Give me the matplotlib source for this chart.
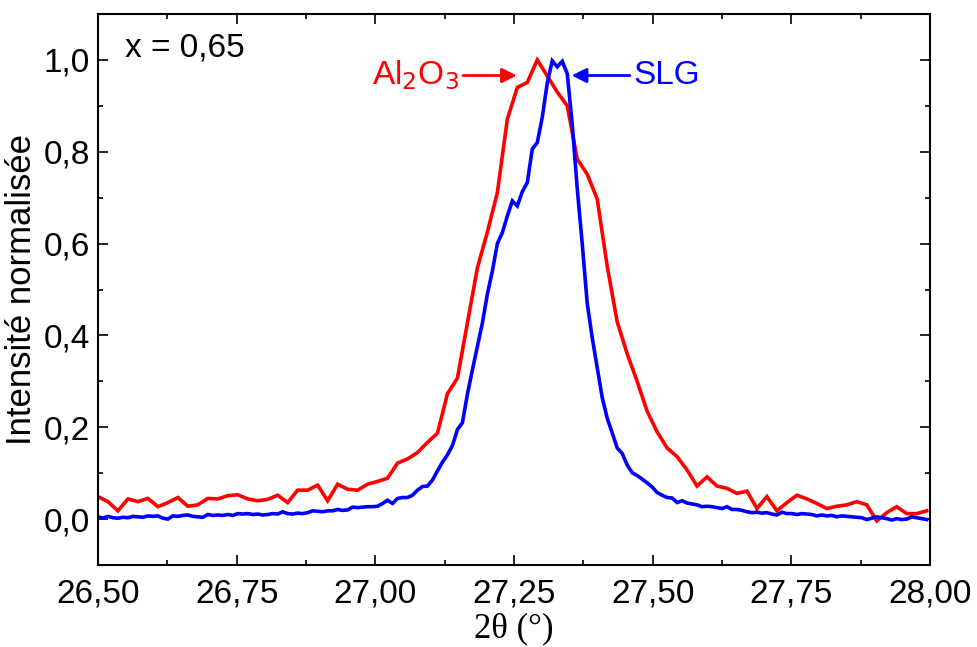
import numpy as np
import matplotlib
matplotlib.use("Agg")
import matplotlib.pyplot as plt
from matplotlib.ticker import FixedLocator, MultipleLocator, FuncFormatter

plt.rcParams['font.family'] = ['Liberation Sans', 'DejaVu Sans']
plt.rcParams['mathtext.fontset'] = 'custom'
plt.rcParams['mathtext.rm'] = 'Liberation Sans'
plt.rcParams['mathtext.it'] = 'Liberation Sans:italic'

# ---- data ----
red_start, red_step = 26.5, 0.018
red_y = [0.049, 0.038, 0.018, 0.044, 0.038, 0.045, 0.027, 0.036, 0.047, 0.028,
         0.031, 0.045, 0.044, 0.051, 0.053, 0.044, 0.040, 0.043, 0.052, 0.036,
         0.063, 0.063, 0.074, 0.040, 0.076, 0.065, 0.063, 0.076, 0.082, 0.089,
         0.122, 0.131, 0.145, 0.167, 0.187, 0.273, 0.307, 0.427, 0.547, 0.625,
         0.711, 0.871, 0.940, 0.951, 1.000, 0.965, 0.930, 0.900, 0.784, 0.751,
         0.697, 0.551, 0.430, 0.360, 0.300, 0.235, 0.190, 0.155, 0.136, 0.107,
         0.072, 0.092, 0.072, 0.067, 0.056, 0.061, 0.023, 0.049, 0.018, 0.036,
         0.052, 0.044, 0.034, 0.023, 0.028, 0.031, 0.038, 0.031, -0.004, 0.014,
         0.027, 0.012, 0.012, 0.018]

blue_start, blue_step = 26.5, 0.009
blue_y = [0.005, 0.002, 0.006, 0.003, 0.002, 0.004, 0.003, 0.006, 0.005, 0.004,
          0.007, 0.006, 0.007, 0.002, 0.000, 0.007, 0.006, 0.008, 0.009, 0.006,
          0.005, 0.004, 0.010, 0.008, 0.009, 0.008, 0.010, 0.008, 0.012, 0.011,
          0.012, 0.010, 0.011, 0.009, 0.010, 0.012, 0.011, 0.016, 0.012, 0.011,
          0.013, 0.012, 0.014, 0.018, 0.017, 0.016, 0.018, 0.018, 0.021, 0.019,
          0.020, 0.026, 0.025, 0.026, 0.027, 0.027, 0.028, 0.034, 0.041, 0.034,
          0.045, 0.047, 0.047, 0.052, 0.063, 0.071, 0.072, 0.085, 0.105, 0.124,
          0.140, 0.160, 0.195, 0.210, 0.272, 0.325, 0.376, 0.427, 0.490, 0.540,
          0.600, 0.624, 0.660, 0.693, 0.682, 0.713, 0.733, 0.806, 0.820, 0.875,
          0.950, 0.998, 0.985, 0.997, 0.970, 0.860, 0.720, 0.600, 0.470, 0.395,
          0.330, 0.265, 0.220, 0.188, 0.155, 0.143, 0.118, 0.101, 0.095, 0.087,
          0.079, 0.070, 0.058, 0.052, 0.047, 0.046, 0.036, 0.040, 0.035, 0.033,
          0.031, 0.027, 0.028, 0.027, 0.025, 0.023, 0.027, 0.021, 0.021, 0.019,
          0.016, 0.014, 0.015, 0.013, 0.014, 0.011, 0.009, 0.015, 0.012, 0.012,
          0.010, 0.012, 0.011, 0.010, 0.007, 0.009, 0.007, 0.008, 0.005, 0.007,
          0.006, 0.005, 0.004, 0.003, -0.001, 0.002, 0.005, 0.003, 0.001, -0.002,
          0.001, -0.001, 0.000, 0.005, 0.003, 0.001, -0.001]

x_ticks = [26.50, 26.75, 27.00, 27.25, 27.50, 27.75, 28.00]
y_ticks = [0.0, 0.2, 0.4, 0.6, 0.8, 1.0]

red_x = red_start + red_step * np.arange(len(red_y))
blue_x = blue_start + blue_step * np.arange(len(blue_y))

fig = plt.figure(figsize=(9.77, 6.47), dpi=100)
ax = fig.add_axes([0.1003, 0.1267, 0.8516, 0.8517])

ax.plot(red_x, red_y, color='#ff0000', lw=2.6, solid_joinstyle='miter')
ax.plot(blue_x, blue_y, color='#0000ff', lw=2.6, solid_joinstyle='miter')

ax.set_xlim(26.5, 28.0)
ax.set_ylim(-0.1, 1.1)

ax.xaxis.set_major_locator(FixedLocator(x_ticks))
ax.xaxis.set_minor_locator(MultipleLocator(0.125))
ax.yaxis.set_major_locator(FixedLocator(y_ticks))
ax.yaxis.set_minor_locator(MultipleLocator(0.1))
ax.xaxis.set_major_formatter(FuncFormatter(lambda v, p: f"{v:.2f}".replace('.', ',')))
ax.yaxis.set_major_formatter(FuncFormatter(lambda v, p: f"{v:.1f}".replace('.', ',')))

ax.tick_params(which='both', direction='in', top=True, right=True, width=1.2, colors='black')
ax.tick_params(which='major', length=7)
ax.tick_params(which='minor', length=3.6)
ax.tick_params(axis='x', which='major', labelsize=24, pad=10)
ax.tick_params(axis='y', which='major', labelsize=24, pad=6)
for s in ax.spines.values():
    s.set_linewidth(1.5)

ax.set_ylabel('Intensité normalisée', fontsize=25, labelpad=4)
ax.set_xlabel('2θ (°)', fontsize=25, family=['Liberation Serif', 'DejaVu Serif'], labelpad=2)

ax.text(0.032, 0.938, 'x = 0,65', transform=ax.transAxes, fontsize=24,
        ha='left', va='center')

ax.annotate('', xy=(27.255, 0.966), xytext=(27.158, 0.966),
            arrowprops=dict(arrowstyle='-|>', color='#ff0000', lw=2,
                            mutation_scale=22, shrinkA=0, shrinkB=0))
ax.text(27.150, 0.966, r'Al$_{\mathsf{2}}$O$_{\mathsf{3}}$', color='#ff0000', fontsize=24,
        ha='right', va='center')

ax.annotate('', xy=(27.354, 0.966), xytext=(27.459, 0.966),
            arrowprops=dict(arrowstyle='-|>', color='#0000ff', lw=2,
                            mutation_scale=22, shrinkA=0, shrinkB=0))
ax.text(27.466, 0.966, 'SLG', color='#0000ff', fontsize=24,
        ha='left', va='center')

fig.savefig('out.png', dpi=100)
